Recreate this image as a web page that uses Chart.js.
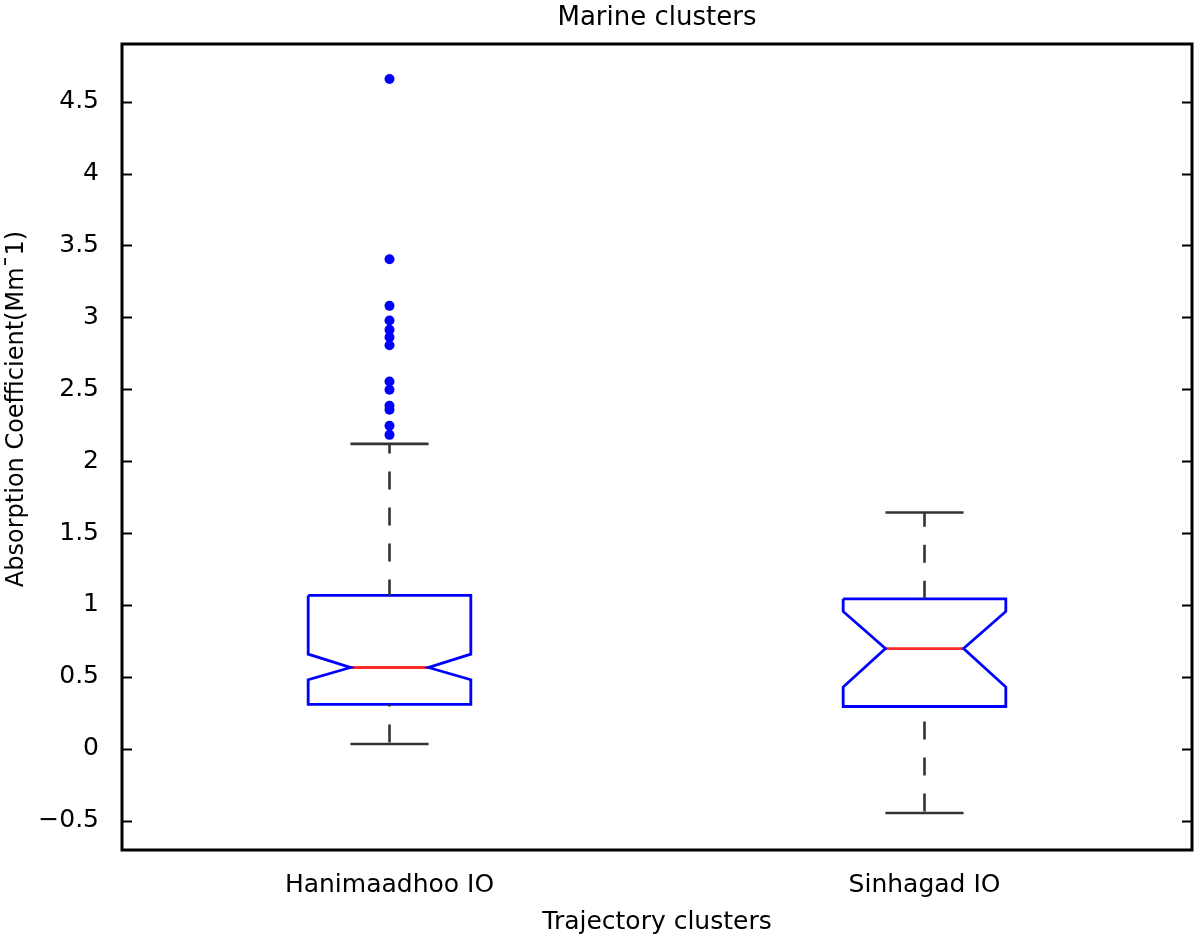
<!DOCTYPE html>
<html>
<head>
<meta charset="utf-8">
<title>Marine clusters</title>
<script src="https://cdn.jsdelivr.net/npm/chart.js@4.4.1/dist/chart.umd.min.js"></script>
<style>
  html, body { margin: 0; padding: 0; background: #fff; }
  #wrap { width: 1200px; height: 942px; }
</style>
</head>
<body>
<div id="wrap"><canvas id="box-chart" width="1200" height="942"></canvas></div>
<script>
// ===== data =====
const categories = ["Hanimaadhoo IO", "Sinhagad IO"];
const whiskerLow = [0.033, -0.447];
const q1 = [0.308, 0.294];
const notchLow = [0.48, 0.429];
const median = [0.565, 0.697];
const notchHigh = [0.658, 0.955];
const q3 = [1.066, 1.043];
const whiskerHigh = [2.12, 1.643];
const outliers = [
  [4.657, 3.404, 3.080, 2.978, 2.913, 2.862, 2.806, 2.554, 2.496, 2.385, 2.357, 2.246, 2.183],
  []
];
const yTicks = [-0.5, 0, 0.5, 1, 1.5, 2, 2.5, 3, 3.5, 4, 4.5];
const yLabel = "Absorption Coefficient(Mm\u00AF1)";

// box geometry in x-axis units
const boxHalf = 0.152;
const notchHalf = 0.073;
const capHalf = 0.073;

const FONT = "'DejaVu Sans', sans-serif";
const datasets = [];

categories.forEach((name, i) => {
  const c = i + 1;
  // whiskers (dashed) box edge -> cap
  datasets.push({
    data: [{ x: c, y: q3[i] }, { x: c, y: whiskerHigh[i] }],
    showLine: true, borderColor: "#333", borderWidth: 2.6,
    borderDash: [18, 18], borderDashOffset: i === 0 ? 2 : 0, pointRadius: 0
  });
  datasets.push({
    data: [{ x: c, y: q1[i] }, { x: c, y: whiskerLow[i] }],
    showLine: true, borderColor: "#333", borderWidth: 2.6,
    borderDash: [18, 18], borderDashOffset: i === 0 ? 16 : 21, pointRadius: 0
  });
  // caps
  [whiskerHigh[i], whiskerLow[i]].forEach(v => {
    datasets.push({
      data: [{ x: c - capHalf, y: v }, { x: c + capHalf, y: v }],
      showLine: true, borderColor: "#333", borderWidth: 2.6, pointRadius: 0
    });
  });
  // notched box
  datasets.push({
    data: [
      { x: c - boxHalf, y: q3[i] }, { x: c + boxHalf, y: q3[i] },
      { x: c + boxHalf, y: notchHigh[i] }, { x: c + notchHalf, y: median[i] },
      { x: c + boxHalf, y: notchLow[i] }, { x: c + boxHalf, y: q1[i] },
      { x: c - boxHalf, y: q1[i] }, { x: c - boxHalf, y: notchLow[i] },
      { x: c - notchHalf, y: median[i] }, { x: c - boxHalf, y: notchHigh[i] },
      { x: c - boxHalf, y: q3[i] }
    ],
    showLine: true, borderColor: "#0000ff", borderWidth: 2.8, pointRadius: 0,
    borderJoinStyle: "miter"
  });
  // median
  datasets.push({
    data: [{ x: c - notchHalf, y: median[i] }, { x: c + notchHalf, y: median[i] }],
    showLine: true, borderColor: "#ff2a2a", borderWidth: 2.8, pointRadius: 0
  });
  // outliers
  datasets.push({
    data: outliers[i].map(v => ({ x: c, y: v })),
    showLine: false, pointRadius: 5, pointBackgroundColor: "#0000ff",
    pointBorderColor: "#0000ff", pointBorderWidth: 0
  });
});

// frame, inward ticks, y label
const framePlugin = {
  id: "frame",
  afterDraw(chart) {
    const { ctx, chartArea: a, scales } = chart;
    ctx.save();
    ctx.strokeStyle = "#000";
    ctx.lineWidth = 2;
    yTicks.forEach(v => {
      const y = Math.round(scales.y.getPixelForValue(v)) + 0.5;
      ctx.beginPath();
      ctx.moveTo(a.left, y); ctx.lineTo(a.left + 10, y);
      ctx.moveTo(a.right, y); ctx.lineTo(a.right - 10, y);
      ctx.stroke();
    });
    ctx.lineWidth = 3;
    ctx.strokeRect(a.left, a.top, a.right - a.left, a.bottom - a.top);

    ctx.translate(17, 409);
    ctx.rotate(-Math.PI / 2);
    ctx.fillStyle = "#000";
    ctx.font = "24px " + FONT;
    ctx.textAlign = "center";
    ctx.textBaseline = "middle";
    ctx.fillText(yLabel, 0, 0);
    ctx.restore();
  }
};

new Chart(document.getElementById("box-chart"), {
  type: "scatter",
  data: { datasets: datasets },
  options: {
    responsive: false,
    animation: false,
    layout: { padding: { left: 0, right: 8, top: 0, bottom: 0 } },
    plugins: {
      legend: { display: false },
      tooltip: { enabled: false },
      title: {
        display: true,
        fullSize: false,
        text: "Marine clusters",
        color: "#000",
        font: { family: FONT, size: 26, weight: "normal" },
        padding: { top: 3, bottom: 9.8 }
      }
    },
    scales: {
      x: {
        type: "linear",
        min: 0.5,
        max: 2.5,
        grid: { display: false },
        border: { display: false },
        afterBuildTicks: scale => { scale.ticks = categories.map((_, i) => ({ value: i + 1 })); },
        afterFit: scale => { scale.height = 92; },
        ticks: {
          padding: 12,
          color: "#000",
          font: { family: FONT, size: 25 },
          callback: v => categories[v - 1] || ""
        },
        title: {
          display: true,
          text: "Trajectory clusters",
          color: "#000",
          font: { family: FONT, size: 25 },
          padding: { top: 0, bottom: 5 }
        }
      },
      y: {
        type: "linear",
        min: -0.704,
        max: 4.901,
        grid: { display: false },
        border: { display: false },
        afterBuildTicks: scale => { scale.ticks = yTicks.map(v => ({ value: v })); },
        afterFit: scale => { scale.width = 122; },
        ticks: {
          padding: 15,
          color: "#000",
          font: { family: FONT, size: 25 },
          callback: v => String(v).replace("-", "\u2212")
        }
      }
    }
  },
  plugins: [framePlugin]
});
</script>
</body>
</html>
